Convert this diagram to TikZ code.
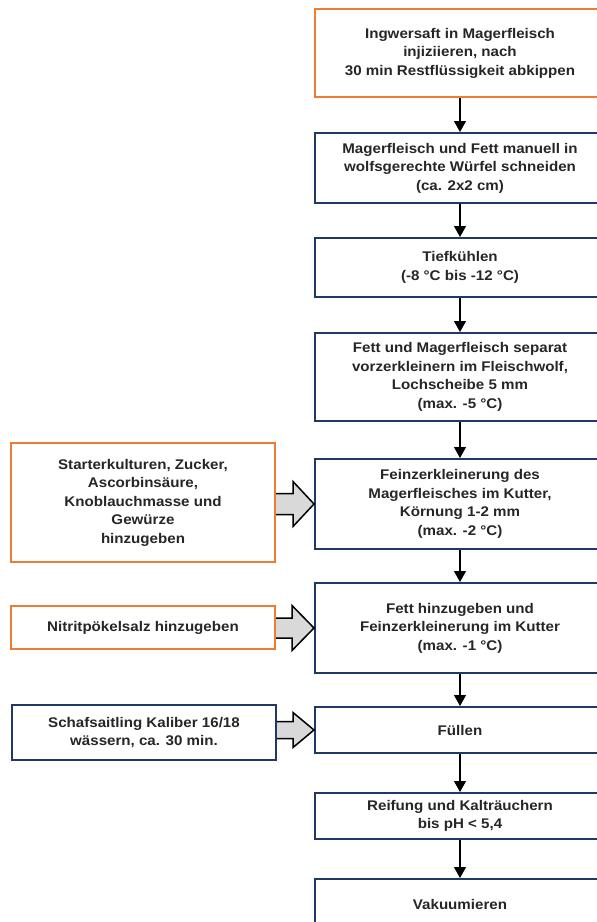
\documentclass[tikz,border=0pt]{standalone}
\usepackage{fontspec}
\setmainfont[FakeStretch=1.08]{Liberation Sans}
\usetikzlibrary{arrows.meta,calc}
\definecolor{orng}{HTML}{ED7D31}
\definecolor{navy}{HTML}{1F3864}
\definecolor{txt}{HTML}{262626}
\definecolor{fillgray}{HTML}{D9D9D9}
\newcommand{\blockarrow}[5]{%
  \path let \p1=(#1.east), \p2=(#2.west) in
    [blk] (\x1,\y2+#3) -- (\x2-#5,\y2+#3) -- (\x2-#5,\y2+#4) -- (\x2,\y2)
      -- (\x2-#5,\y2-#4) -- (\x2-#5,\y2-#3) -- (\x1,\y2-#3);}
\begin{document}
\begin{tikzpicture}[x=1pt,y=-1pt,
  box/.style={draw=navy,line width=2pt,fill=white,minimum width=290pt,align=center,
    font=\fontsize{14}{18.5}\selectfont\bfseries,text=txt,inner sep=0pt},
  obox/.style={box,draw=orng},
  lbox/.style={box,minimum width=264pt},
  lobox/.style={obox,minimum width=264pt},
  flow/.style={-{Triangle[length=11pt,width=12pt]},line width=1.2pt,draw=black},
  blk/.style={draw=black,line width=1.5pt,fill=fillgray,line join=miter}]
\useasboundingbox (0,0) rectangle (597,922);
\node[obox,minimum height=88pt] (b1) at (460,53) {Ingwersaft in Magerfleisch\\injiziieren, nach\\30 min Restflüssigkeit abkippen};
\node[box,minimum height=70pt] (b2) at (460,168) {Magerfleisch und Fett manuell in\\wolfsgerechte Würfel schneiden\\(ca. 2x2 cm)};
\node[box,minimum height=59pt] (b3) at (460,267.5) {Tiefkühlen\\(-8 °C bis -12 °C)};
\node[box,minimum height=88pt] (b4) at (460,377) {Fett und Magerfleisch separat\\vorzerkleinern im Fleischwolf,\\Lochscheibe 5 mm\\(max. -5 °C)};
\node[box,minimum height=90pt] (b5) at (460,504) {Feinzerkleinerung des\\Magerfleisches im Kutter,\\Körnung 1-2 mm\\(max. -2 °C)};
\node[box,minimum height=90pt] (b6) at (460,628) {Fett hinzugeben und\\Feinzerkleinerung im Kutter\\(max. -1 °C)};
\node[box,minimum height=46pt] (b7) at (460,730) {Füllen};
\node[box,minimum height=46pt] (b8) at (460,816) {Reifung und Kalträuchern\\bis pH < 5,4};
\node[box,minimum height=50pt] (b9) at (460,904) {Vakuumieren};
\node[lobox,minimum height=119pt] (s1) at (143,502.5) {Starterkulturen, Zucker,\\Ascorbinsäure,\\Knoblauchmasse und\\Gewürze\\hinzugeben};
\node[lobox,minimum height=43pt] (s2) at (143,627.5) {Nitritpökelsalz hinzugeben};
\node[lbox,minimum height=55pt] (s3) at (144,732.5) {Schafsaitling Kaliber 16/18\\wässern, ca. 30 min.};
\draw[flow] (b1) -- (b2);
\draw[flow] (b2) -- (b3);
\draw[flow] (b3) -- (b4);
\draw[flow] (b4) -- (b5);
\draw[flow] (b5) -- (b6);
\draw[flow] (b6) -- (b7);
\draw[flow] (b7) -- (b8);
\draw[flow] (b8) -- (b9);
\blockarrow{s1}{b5}{10.5}{22.5}{21}
\blockarrow{s2}{b6}{10}{22.5}{22}
\blockarrow{s3}{b7}{8.5}{17.5}{21}
\end{tikzpicture}
\end{document}
